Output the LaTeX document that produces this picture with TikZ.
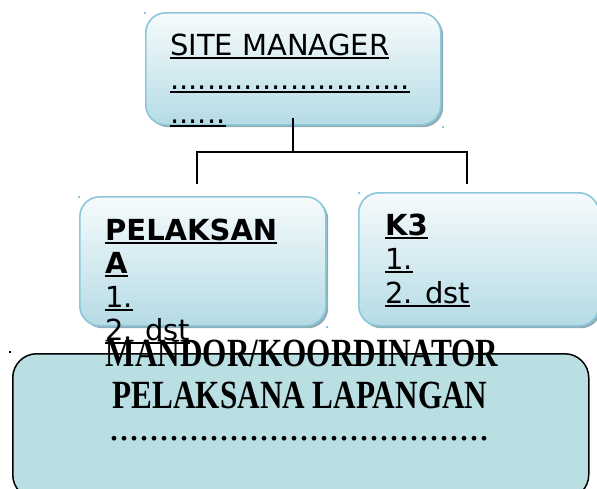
\documentclass[tikz,border=0pt]{standalone}
\usepackage{fontspec}
\setmainfont{DejaVu Sans}
\newfontfamily\tnr[FakeStretch=0.78]{Liberation Serif}
\newfontfamily\tnrdots{Liberation Serif}
\newcommand\ulx[1]{\setbox0=\hbox{#1}\rlap{\rule[-4pt]{\wd0}{1.8pt}}\box0}
\definecolor{bbord}{HTML}{8CC8D9}
\definecolor{btop}{HTML}{F6FBFC}
\definecolor{bbot}{HTML}{B5DBE5}
\definecolor{bshad}{HTML}{8FACB6}
\definecolor{bfill}{HTML}{B9DFE3}
\begin{document}
\begin{tikzpicture}[x=1pt,y=-1pt,
  boxbase/.style={rounded corners=20pt, inner sep=0pt, anchor=north west},
  gbox/.style={boxbase, draw=bbord, line width=1.6pt, top color=btop, bottom color=bbot},
  sbox/.style={boxbase, fill=bshad},
  txt/.style={anchor=base west, inner sep=0pt, font=\fontsize{29}{34}\selectfont},
  btxt/.style={txt, font=\fontsize{29}{34}\selectfont\bfseries},
  ttxt/.style={anchor=base, inner sep=0pt, font=\fontsize{40}{42}\selectfont\tnr\bfseries},
  conn/.style={draw=black, line width=1.9pt}]
\useasboundingbox (0,0) rectangle (597,488);
% shadows
\node[sbox, minimum width=295pt, minimum height=112pt] (smS) at (148,15) {};
\node[sbox, minimum width=246pt, minimum height=129pt] (plS) at (82,199) {};
\node[sbox, minimum width=240pt, minimum height=133pt] (k3S) at (361,195) {};
% boxes
\node[gbox, minimum width=295pt, minimum height=112pt] (sm) at (145,12) {};
\node[gbox, minimum width=246pt, minimum height=129pt] (pl) at (79,196) {};
\node[gbox, minimum width=240pt, minimum height=133pt] (k3) at (358,192) {};
\node[boxbase, draw=black, line width=1.5pt, fill=bfill, rounded corners=24pt,
      minimum width=576pt, minimum height=145pt] (md) at (12,353) {};
% tiny corner marks
\fill[bbord] (144,12) rectangle +(2,2);
\fill[bbord] (442,126) rectangle +(2,2);
\fill[bbord] (78,196) rectangle +(2,2);
\fill[bbord] (326,326) rectangle +(2,2);
\fill[bbord] (358,192) rectangle +(2,2);
\fill[black] (9,351) rectangle +(1.5,1.5);
% connectors
\coordinate (c0) at (293,118);
\coordinate (c1) at (293,152);
\coordinate (cl) at (197,152);
\coordinate (cr) at (467,152);
\coordinate (dl) at (197,184);
\coordinate (dr) at (467,184);
\draw[conn] (c0) -- (c1);
\draw[conn] (dl) -- (cl) -- (cr) -- (dr);
% texts top box
\node[txt] (sm1) at (170,55) {\ulx{SITE MANAGER}};
\node[txt] (sm2) at (170,89) {\ulx{..........................}};
\node[txt] (sm3) at (170,123) {\ulx{......}};
% pelaksana
\node[btxt] (pl1) at (105,240) {\ulx{PELAKSAN}};
\node[btxt] (pl2) at (105,273) {\ulx{A}};
\node[txt] (pl3) at (105,307) {\ulx{1.}};
\node[txt] (pl4) at (105,340) {\ulx{2. dst}};
% k3
\node[btxt] (k31) at (385,235) {\ulx{K3}};
\node[txt] (k32) at (385,269) {\ulx{1.}};
\node[txt] (k33) at (385,303) {\ulx{2. dst}};
% bottom box texts
\node[ttxt] (md1) at (302,366) {MANDOR/KOORDINATOR};
\node[ttxt] (md2) at (300,408) {PELAKSANA LAPANGAN};
\node[anchor=base, inner sep=0pt, font=\fontsize{40}{42}\selectfont\tnrdots] (md3) at (299,440) {......................................};
\end{tikzpicture}
\end{document}
